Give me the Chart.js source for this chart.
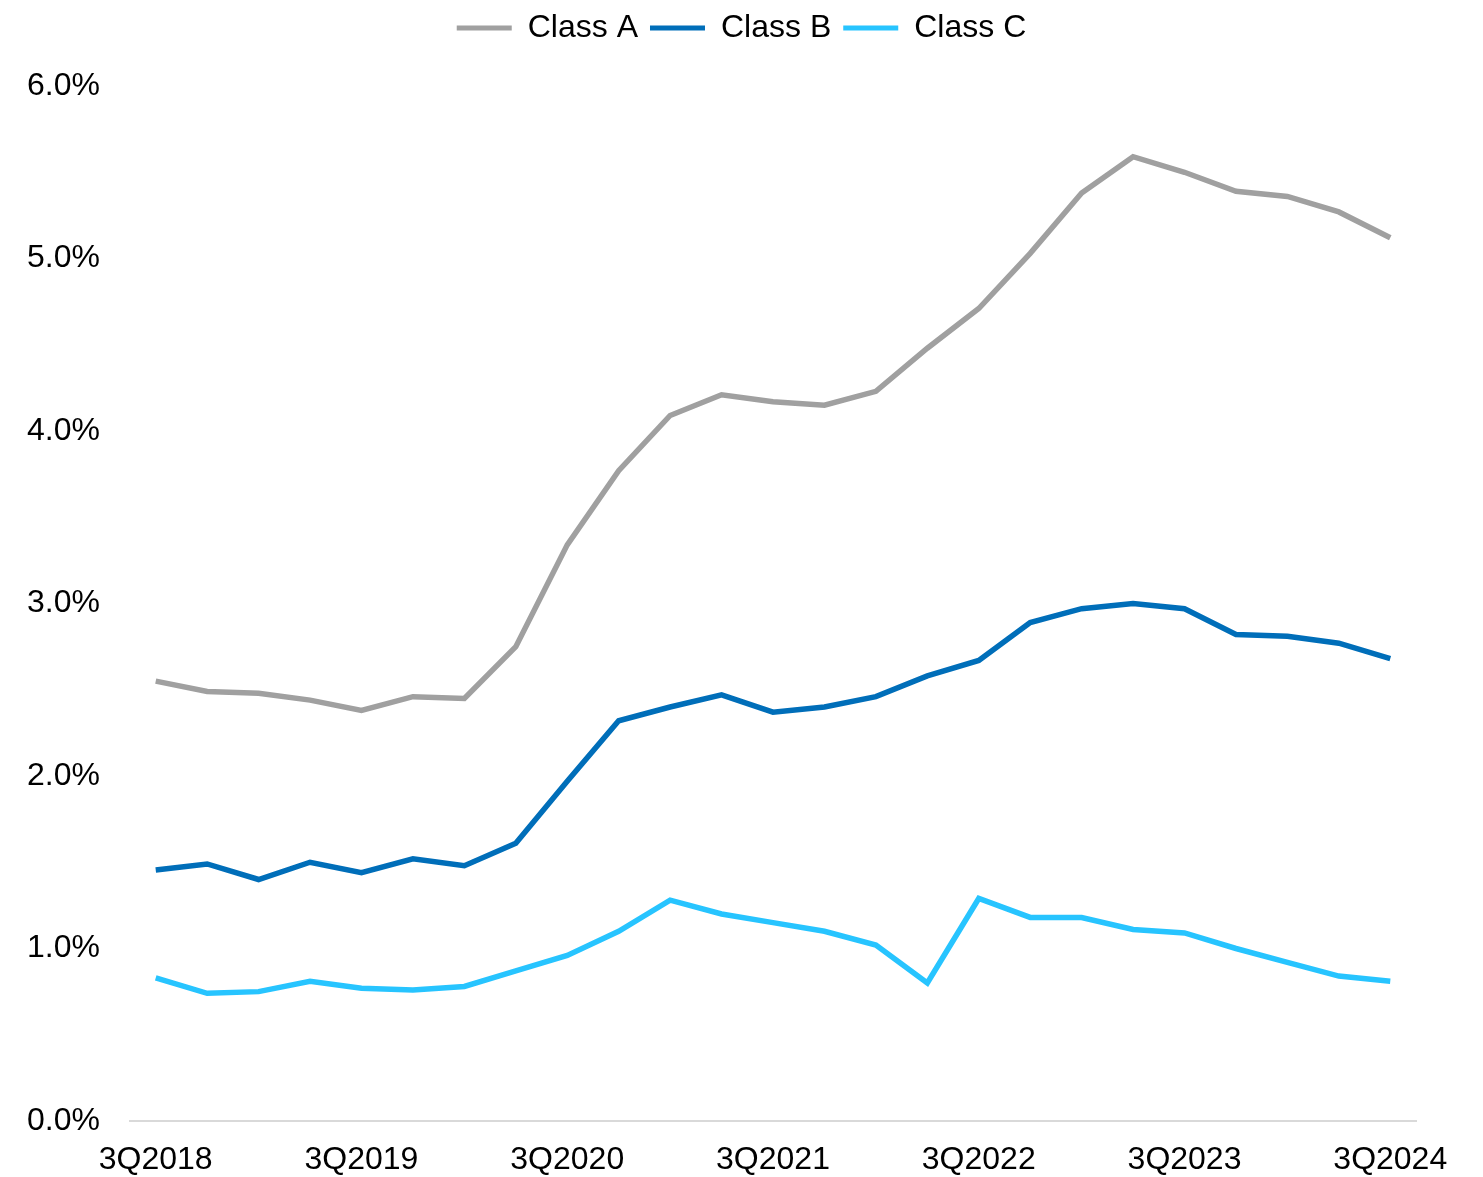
<!DOCTYPE html>
<html>
<head>
<meta charset="utf-8">
<script src="https://cdn.jsdelivr.net/npm/chart.js@4.4.1/dist/chart.umd.min.js"></script>
<style>
  html, body { margin: 0; padding: 0; background: #fff; }
  #wrap { width: 1483px; height: 1177px; }
</style>
</head>
<body>
<div id="wrap"><canvas id="miGrafico"></canvas></div>
<script>
// trimestres 3Q2018 .. 3Q2024
var trimestres = [
  '3Q2018','4Q2018','1Q2019','2Q2019','3Q2019','4Q2019','1Q2020','2Q2020',
  '3Q2020','4Q2020','1Q2021','2Q2021','3Q2021','4Q2021','1Q2022','2Q2022',
  '3Q2022','4Q2022','1Q2023','2Q2023','3Q2023','4Q2023','1Q2024','2Q2024','3Q2024'
];
var claseA = [2.55, 2.49, 2.48, 2.44, 2.38, 2.46, 2.45, 2.75, 3.34, 3.77, 4.09, 4.21, 4.17,
              4.15, 4.23, 4.48, 4.71, 5.03, 5.38, 5.59, 5.50, 5.39, 5.36, 5.27, 5.12];
var claseB = [1.455, 1.49, 1.40, 1.50, 1.44, 1.52, 1.48, 1.61, 1.97, 2.32, 2.40, 2.47, 2.37,
              2.40, 2.46, 2.58, 2.67, 2.89, 2.97, 3.00, 2.97, 2.82, 2.81, 2.77, 2.68];
var claseC = [0.83, 0.74, 0.75, 0.81, 0.77, 0.76, 0.78, 0.87, 0.96, 1.10, 1.28, 1.20, 1.15,
              1.10, 1.02, 0.80, 1.29, 1.18, 1.18, 1.11, 1.09, 1.00, 0.92, 0.84, 0.81];
var ticksY = [0, 1, 2, 3, 4, 5, 6];

var fuente = { family: '"Liberation Sans", Arial, sans-serif', size: 32 };

function serie(nombre, datos, color) {
  return {
    label: nombre,
    data: datos,
    borderColor: color,
    backgroundColor: color,
    borderWidth: 5.5,
    pointRadius: 0,
    tension: 0,
    fill: false
  };
}

// la leyenda ocupa mas alto para bajar el area del grafico
var altoLeyenda = {
  id: 'altoLeyenda',
  beforeInit: function (c) {
    var orig = c.legend.fit;
    c.legend.fit = function () {
      orig.bind(c.legend)();
      this.height += 32;
    };
  }
};

var ctx = document.getElementById('miGrafico').getContext('2d');
var chart = new Chart(ctx, {
  type: 'line',
  data: {
    labels: trimestres,
    datasets: [
      serie('Class A', claseA, '#A0A0A0'),
      serie('Class B', claseB, '#006EB9'),
      serie('Class C', claseC, '#27C4FF')
    ]
  },
  plugins: [altoLeyenda],
  options: {
    responsive: true,
    maintainAspectRatio: false,
    animation: false,
    layout: { padding: { left: 0, right: 0, top: 0, bottom: 0 } },
    plugins: {
      tooltip: { enabled: false },
      legend: {
        position: 'top',
        labels: {
          font: fuente,
          color: '#000',
          boxWidth: 55,
          boxHeight: 5,
          padding: 12,
          generateLabels: function (c) {
            return Chart.defaults.plugins.legend.labels.generateLabels(c).map(function (l) {
              l.lineWidth = 0;
              return l;
            });
          }
        }
      }
    },
    scales: {
      x: {
        offset: true,
        afterFit: function (s) { s.height = 56; },
        grid: { display: false, drawTicks: false },
        border: { display: true, color: '#D9D9D9', width: 2 },
        ticks: {
          font: fuente,
          color: '#000',
          autoSkip: false,
          maxRotation: 0,
          padding: 20,
          callback: function (v, i) { return i % 4 === 0 ? trimestres[i] : ''; }
        }
      },
      y: {
        min: 0,
        max: 6,
        afterFit: function (s) { s.width = 130; },
        afterBuildTicks: function (s) { s.ticks = ticksY.map(function (v) { return { value: v }; }); },
        grid: { display: false, drawTicks: false },
        border: { display: false },
        ticks: {
          font: fuente,
          color: '#000',
          padding: 30,
          callback: function (v) { return v.toFixed(1) + '%'; }
        }
      },
      derecha: {
        position: 'right',
        afterFit: function (s) { s.width = 67; },
        grid: { display: false, drawTicks: false },
        border: { display: false },
        ticks: { display: false }
      }
    }
  }
});
</script>
</body>
</html>
